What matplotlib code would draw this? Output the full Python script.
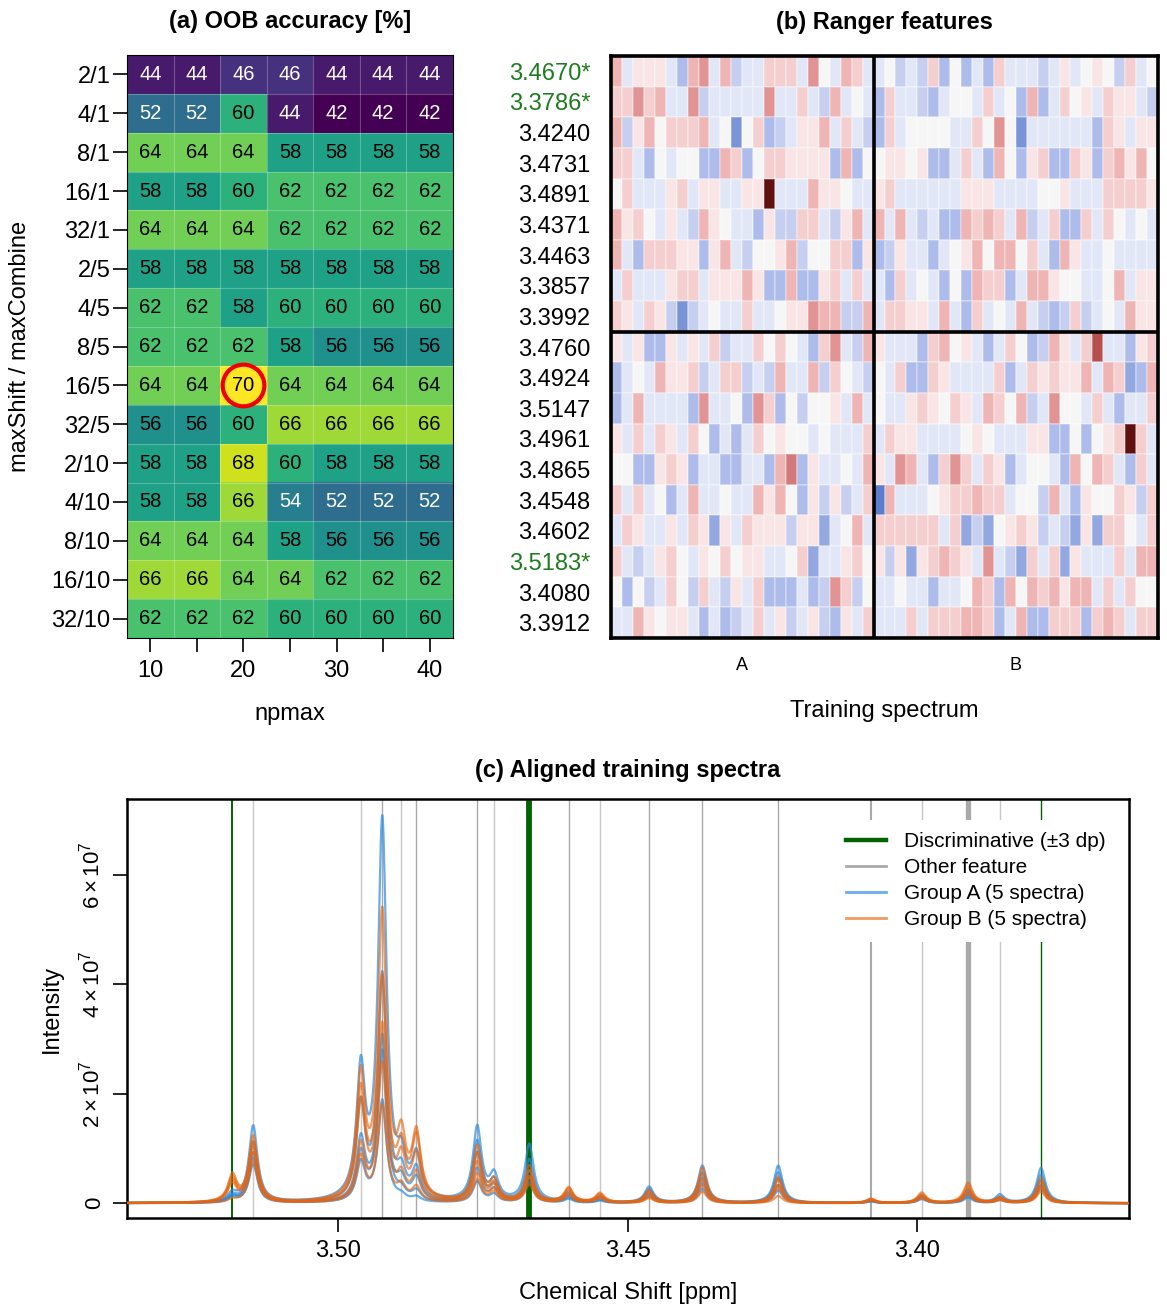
import numpy as np
import matplotlib
matplotlib.use("Agg")
import matplotlib.pyplot as plt
from matplotlib.colors import LinearSegmentedColormap
from matplotlib.lines import Line2D

plt.rcParams['font.family'] = ['Liberation Sans', 'DejaVu Sans']
plt.rcParams['mathtext.fontset'] = 'custom'
plt.rcParams['mathtext.rm'] = 'Liberation Sans'
plt.rcParams['mathtext.it'] = 'Liberation Sans:italic'

# ---------------- (a) OOB accuracy grid ----------------
shift_combine = ["2/1", "4/1", "8/1", "16/1", "32/1", "2/5", "4/5", "8/5", "16/5",
                 "32/5", "2/10", "4/10", "8/10", "16/10", "32/10"]
npmax = [10, 15, 20, 25, 30, 35, 40]
oob = [
    [44, 44, 46, 46, 44, 44, 44],
    [52, 52, 60, 44, 42, 42, 42],
    [64, 64, 64, 58, 58, 58, 58],
    [58, 58, 60, 62, 62, 62, 62],
    [64, 64, 64, 62, 62, 62, 62],
    [58, 58, 58, 58, 58, 58, 58],
    [62, 62, 58, 60, 60, 60, 60],
    [62, 62, 62, 58, 56, 56, 56],
    [64, 64, 70, 64, 64, 64, 64],
    [56, 56, 60, 66, 66, 66, 66],
    [58, 58, 68, 60, 58, 58, 58],
    [58, 58, 66, 54, 52, 52, 52],
    [64, 64, 64, 58, 56, 56, 56],
    [66, 66, 64, 64, 62, 62, 62],
    [62, 62, 62, 60, 60, 60, 60],
]
best_row, best_np = "16/5", 20

# ---------------- (b) ranger feature heatmap ----------------
features = ["3.4670*", "3.3786*", "3.4240", "3.4731", "3.4891", "3.4371", "3.4463",
            "3.3857", "3.3992", "3.4760", "3.4924", "3.5147", "3.4961", "3.4865",
            "3.4548", "3.4602", "3.5183*", "3.4080", "3.3912"]
group_a = [
    [3, -1, 1, 1, 1, -1, -3, 3, 4, -1, 3, -2, -1, -1, 2, 2, 2, -1, 4, 0, -1, 3, 2, -1],
    [2, 2, 4, 2, 3, -1, -1, 4, -2, -1, -1, -1, -1, -1, 4, -1, -1, 2, -1, -2, 3, -1, 0, -1],
    [3, -2, 1, 3, 0, 2, 2, 2, 3, -1, 0, -5, 0, 2, -3, -2, -1, 1, 1, 3, -1, 2, -1, -2],
    [2, 2, -1, -3, 0, -1, 0, 0, -3, -3, 3, 2, -3, 0, 2, 2, 1, 1, 1, 1, -3, 3, -3, 0],
    [0, 2, -1, -1, -1, 1, 2, -1, 1, 1, -1, -1, 1, 1, 8, -1, -1, -1, 3, 1, 1, 0, -1, -1],
    [3, 1, 2, 0, -1, 1, -1, -2, 3, 1, 0, -1, -1, -3, 1, -2, -2, 2, 2, -1, -2, 1, 3, -1],
    [3, -1, -3, 2, 2, 2, 1, 1, -3, 1, 3, -1, -2, 0, 0, 1, 3, -2, 0, 0, 2, 2, -3, 1],
    [-1, 2, -1, -1, -1, 1, 2, 2, -1, 1, 1, 1, 3, 1, -3, -3, 3, -3, -3, 1, 2, -1, 2, -1],
    [2, 1, -1, 2, 1, -2, -5, -2, -1, 0, -1, -1, 2, -1, -1, 0, 1, 1, 4, 3, 3, -2, -2, 3],
    [1, -1, 1, -3, -3, 1, -1, 1, -1, 2, -2, -1, -1, 2, 0, 2, 0, -1, -3, 2, 4, -1, -2, 3],
    [-3, -1, 0, -1, 3, 1, 1, 2, -2, -1, 2, 2, -2, -1, -2, 3, -1, -1, 3, -2, 2, 0, -1, -2],
    [-3, -1, 3, -1, -1, -1, -1, -3, 4, -1, -1, 0, -3, 4, 2, -3, 0, -2, 0, 0, 1, -1, 3, -1],
    [1, -1, 2, -1, 2, 1, -1, 2, 0, -3, -1, -3, -1, 2, 0, 1, 0, 0, -1, 0, -1, -1, -1, 2],
    [0, 0, -3, -3, 1, 2, 1, -3, -1, -1, -3, -3, -1, -1, -3, 3, 5, -3, 1, -1, -1, 0, -1, 3],
    [2, -1, 2, -1, 0, -3, -1, 3, -1, -1, 0, -1, -1, 3, 1, 3, 0, -3, 1, -2, 1, -2, -1, 2],
    [-1, 2, 1, -1, -1, 1, -1, 2, 1, -4, 1, -1, 2, 1, 1, 1, -2, 1, 1, -4, -1, 0, 3, -1],
    [2, -1, -2, -1, 1, 2, 0, -1, 1, 0, 2, 0, 1, 1, -1, -1, 0, 2, -4, -1, -1, 1, 2, 0],
    [0, -3, 0, -2, -1, 2, 0, -2, 2, -1, -2, 1, -1, 2, -3, -3, -3, -1, -3, -2, 4, 2, -2, 0],
    [-1, -1, 3, 1, 0, 1, 1, -1, -3, -1, -3, -2, -1, 2, -1, 1, -2, -1, 1, -2, -3, 1, -1, 2],
]
group_b = [
    [-1, 0, -2, -1, -2, 2, -3, 0, -3, -1, -3, 2, -1, -1, -1, -2, -1, 1, -1, 0, 1, 0, -2, 2, -1, 0],
    [-3, 2, -1, -1, -2, -3, -1, 0, 0, -1, 2, -1, 0, -3, 3, -3, -1, 2, 0, 1, -1, 2, 1, 1, -1, -2],
    [-3, 2, -1, 0, 0, 0, 0, -1, -1, 2, 0, 4, 0, -5, -1, -1, -1, -1, -1, -1, -3, 2, 1, -1, 1, 1],
    [0, 1, 1, 0, 1, -3, -3, -1, 2, -1, -3, 3, 0, -3, 1, 2, -3, -3, 2, 1, -3, 2, 3, 1, 3, 0],
    [1, 2, -1, -1, -1, -1, -1, -1, 1, 1, 1, -1, -1, -1, -1, 0, 0, 1, -1, -1, -1, 2, 2, 2, 2, 1],
    [3, -1, 3, -1, -2, -1, -3, -3, 3, 2, 3, 2, -1, 3, -2, -1, 2, -3, -3, 2, -1, 2, 0, -1, 0, -1],
    [-3, -2, 1, -1, -1, -3, -1, 0, 1, 3, 0, 3, 3, 0, 2, -1, -3, 3, 1, -1, -1, 0, -1, -1, -1, -1],
    [-1, -3, 2, -1, 0, -1, -3, 0, -3, 3, 2, 2, -3, -1, 3, 3, 1, 0, 0, -1, -1, 0, 3, -1, 1, 1],
    [-1, 2, 2, 1, 1, -1, 3, -1, -3, 2, -1, 0, -1, 3, -1, -2, -3, -2, 2, -2, -1, 0, -1, 3, 1, 1],
    [1, -1, -1, -1, -3, 2, 3, 0, 1, -1, -3, -1, 2, 0, -3, -2, 3, 1, -1, 2, 6, -1, -1, -3, 1, 2],
    [0, -1, 2, -3, -3, 2, 1, -1, -1, -1, -1, 2, -3, -1, 2, 1, 2, 1, 1, 3, -1, 3, 2, -4, -3, 3],
    [0, -1, -1, 1, 2, 1, 0, 2, 1, -1, 3, 2, 0, 3, -2, -1, 4, 0, 0, -1, 2, -1, -3, -1, -1, 2],
    [-1, 2, 1, 1, -1, -1, -1, -1, 0, 1, 0, -1, -1, -1, 1, 1, -3, -3, 0, -3, 0, 1, 2, 8, 2, -1],
    [1, -1, 4, 3, -1, -3, 2, 4, 2, -1, 2, 1, -3, -1, 0, 0, -1, -3, 3, 0, 3, 2, -1, -3, 2, -1],
    [-6, 3, -1, -1, -1, 0, 1, 2, 2, 3, 2, 2, -1, 0, 0, -2, 3, -1, -3, 1, 0, 0, 2, 1, -2, 2],
    [2, 2, 2, 2, 2, 2, -1, 2, -4, -2, -4, 0, 1, 2, 1, -2, -1, -2, -4, 1, -4, 2, 2, 0, -1, 2],
    [1, -2, 1, -4, 1, 2, 3, 2, 1, -1, 4, -1, -2, -4, 2, -1, 2, -4, 1, -1, -1, -1, 2, -1, 3, 3],
    [-1, -1, 0, -1, -1, -3, -1, -1, 0, 3, 2, -3, 3, 0, 3, 2, 3, 1, 3, 3, -1, 2, -1, 2, 0, 0],
    [-1, -1, -1, 2, -1, 2, 2, 2, 3, 3, 2, -3, -1, 3, -3, -3, 2, 2, 2, -3, 2, 3, 2, -1, 2, 2],
]
n_top = 9  # features above the horizontal divider

# ---------------- (c) aligned spectra: peak centres and heights (x 1e7) ----------------
peak_ppm = [3.5183, 3.5147, 3.4961, 3.4924, 3.4891, 3.4865, 3.4760, 3.4731, 3.4670, 3.4602,
            3.4548, 3.4463, 3.4371, 3.4240, 3.4080, 3.3992, 3.3912, 3.3857, 3.3786]
heights_a = [  # one row per peak, five spectra of group A
    [0.15, 0.12, 0.10, 0.10, 0.08], [1.40, 1.10, 0.92, 0.82, 0.70], [2.30, 1.70, 1.10, 0.85, 0.70],
    [6.90, 4.10, 3.00, 2.75, 1.85], [0.60, 0.45, 0.32, 0.15, 0.08], [0.75, 0.55, 0.40, 0.18, 0.08],
    [1.35, 1.10, 0.90, 0.62, 0.38], [0.45, 0.36, 0.28, 0.22, 0.14], [1.05, 0.78, 0.58, 0.48, 0.38],
    [0.17, 0.14, 0.11, 0.09, 0.07], [0.10, 0.08, 0.07, 0.05, 0.04], [0.29, 0.25, 0.21, 0.17, 0.13],
    [0.68, 0.56, 0.46, 0.36, 0.26], [0.68, 0.56, 0.46, 0.33, 0.23], [0.05, 0.04, 0.04, 0.03, 0.03],
    [0.14, 0.12, 0.10, 0.09, 0.07], [0.23, 0.19, 0.16, 0.13, 0.10], [0.15, 0.11, 0.09, 0.07, 0.05],
    [0.64, 0.52, 0.42, 0.33, 0.27],
]
heights_b = [
    [0.48, 0.43, 0.38, 0.33, 0.05], [1.20, 1.10, 1.00, 0.90, 0.76], [2.20, 1.95, 1.75, 1.00, 0.80],
    [5.20, 4.00, 3.15, 2.50, 1.75], [1.00, 0.85, 0.70, 0.42, 0.25], [1.15, 1.10, 0.80, 0.50, 0.26],
    [1.00, 0.86, 0.72, 0.52, 0.42], [0.36, 0.31, 0.27, 0.22, 0.18], [0.66, 0.57, 0.48, 0.43, 0.33],
    [0.27, 0.25, 0.22, 0.17, 0.13], [0.17, 0.15, 0.13, 0.10, 0.08], [0.23, 0.19, 0.16, 0.11, 0.09],
    [0.64, 0.52, 0.42, 0.32, 0.21], [0.48, 0.42, 0.33, 0.27, 0.13], [0.08, 0.07, 0.06, 0.05, 0.05],
    [0.19, 0.16, 0.13, 0.11, 0.09], [0.37, 0.31, 0.26, 0.21, 0.16], [0.10, 0.08, 0.07, 0.06, 0.05],
    [0.46, 0.38, 0.32, 0.27, 0.21],
]
discriminative = [3.5183, 3.4670, 3.3786]
other_features = [3.5147, 3.4961, 3.4924, 3.4891, 3.4865, 3.4760, 3.4731, 3.4602, 3.4548,
                  3.4463, 3.4371, 3.4240, 3.4080, 3.3992, 3.3912, 3.3857]

# line widths / shades of the feature markers (style only)
disc_lw = {3.5183: 1.4, 3.4670: 4.2, 3.3786: 1.0}
other_lw = {3.4080: 1.5, 3.3912: 3.8}
other_col = {3.5147: "#c8c8c8", 3.4961: "#c8c8c8", 3.4891: "#c4c4c4", 3.4731: "#c8c8c8",
             3.4548: "#c8c8c8", 3.3992: "#c4c4c4", 3.3857: "#c8c8c8"}

fig = plt.figure(figsize=(11.67, 13.16), dpi=100)
W, H = 1167, 1316


def px_axes(l, t, r, b):
    return fig.add_axes([l / W, 1 - b / H, (r - l) / W, (b - t) / H])


# ===== panel a =====
ax = px_axes(127, 55, 453, 638)
arr = np.array(oob)
ax.imshow(arr, cmap="viridis", vmin=42, vmax=70, aspect="auto",
          extent=(7.5, 42.5, len(shift_combine) - 0.5, -0.5), interpolation="nearest")
for i in range(len(shift_combine)):
    for j, n in enumerate(npmax):
        v = arr[i, j]
        ax.text(n, i, str(v), ha="center", va="center", fontsize=14.5,
                color="white" if v <= 54 else "black")
for k in range(1, len(npmax)):
    ax.axvline(7.5 + 5 * k, color="white", lw=0.8, alpha=0.25)
for k in range(1, len(shift_combine)):
    ax.axhline(k - 0.5, color="white", lw=0.8, alpha=0.25)
ax.plot(best_np, shift_combine.index(best_row), "o", ms=30, mfc="none", mec="#ee0000", mew=3)
ax.set_xticks(npmax)
ax.set_xticklabels([str(n) if n % 10 == 0 else "" for n in npmax])
ax.set_yticks(range(len(shift_combine)))
ax.set_yticklabels(shift_combine)
ax.tick_params(axis="both", labelsize=17, length=10, width=1.2, direction="out")
ax.tick_params(axis="y", pad=2)
ax.tick_params(axis="x", pad=6)
for s in ax.spines.values():
    s.set_linewidth(0.8)
ax.set_xlabel("npmax", fontsize=17)
ax.xaxis.set_label_coords(0.5, -0.13)
ax.xaxis.label.set_va("center")
ax.set_ylabel("maxShift / maxCombine", fontsize=17)
ax.yaxis.set_label_coords(-0.328, 0.5)
ax.yaxis.label.set_va("center")
ax.text(0.5, 1.058, "(a) OOB accuracy [%]", transform=ax.transAxes, ha="center",
        va="center", fontsize=17, fontweight="bold")

# ===== panel b =====
ax = px_axes(611, 56, 1158, 638)
mat = np.hstack([np.array(group_a), np.array(group_b)])
nA = len(group_a[0])
nodes = [(-6, "#5a7dcf"), (-5, "#7a94d8"), (-4, "#94a8e0"), (-3, "#aebdea"), (-2, "#c6cff0"),
         (-1, "#e2e7f7"), (0, "#f6f6f6"), (1, "#f9e6e6"), (2, "#f5cfcf"), (3, "#efb4b4"),
         (4, "#e29494"), (5, "#d47c7c"), (6, "#b85050"), (8, "#601010")]
cmap = LinearSegmentedColormap.from_list("rb", [((v + 6) / 14, c) for v, c in nodes])
ax.pcolormesh(np.arange(mat.shape[1] + 1), np.arange(mat.shape[0] + 1), mat,
              cmap=cmap, vmin=-6, vmax=8, edgecolors=(1, 1, 1, 0.25), linewidth=0.3)
ax.set_xlim(0, mat.shape[1])
ax.set_ylim(mat.shape[0], 0)
ax.axvline(nA, color="black", lw=2.6)
ax.axhline(n_top, color="black", lw=2.6)
for s in ax.spines.values():
    s.set_linewidth(2.6)
ax.set_yticks(np.arange(len(features)) + 0.5)
ax.set_yticklabels(features)
for lab, f in zip(ax.get_yticklabels(), features):
    if f.endswith("*"):
        lab.set_color("#1e7b1e")
ax.set_xticks([nA / 2, nA + (mat.shape[1] - nA) / 2])
ax.set_xticklabels(["A", "B"])
ax.tick_params(axis="y", labelsize=17, length=0, pad=15)
ax.tick_params(axis="x", labelsize=13, length=0, pad=14)
ax.set_xlabel("Training spectrum", fontsize=17)
ax.xaxis.set_label_coords(0.5, -0.126)
ax.xaxis.label.set_va("center")
ax.text(0.5, 1.058, "(b) Ranger features", transform=ax.transAxes, ha="center",
        va="center", fontsize=17, fontweight="bold")

# ===== panel c =====
ax = px_axes(127, 799, 1129, 1218)
xs = np.linspace(3.5365, 3.3634, 4000)
gamma = 0.0009


def spectrum(col, table):
    y = np.zeros_like(xs)
    for p, row in zip(peak_ppm, table):
        y += row[col] * 1e7 / (1 + ((xs - p) / gamma) ** 2)
    return y


for p in other_features:
    ax.axvline(p, color=other_col.get(p, "#a9a9a9"), lw=other_lw.get(p, 1.0), zorder=1)
for p in discriminative:
    ax.axvline(p, color="#006400", lw=disc_lw[p], zorder=1.1)
for k in range(5):
    ax.plot(xs, spectrum(k, heights_a), color="#2b8ae0", lw=1.6, alpha=0.7, zorder=2)
for k in range(5):
    ax.plot(xs, spectrum(k, heights_b), color="#e8650f", lw=1.6, alpha=0.65, zorder=3)
ax.set_xlim(3.5365, 3.3634)
ax.set_ylim(-2.7e6, 7.39e7)
ax.set_xticks([3.50, 3.45, 3.40])
ax.set_xticklabels(["3.50", "3.45", "3.40"])
ax.set_yticks([0, 2e7, 4e7, 6e7])
ax.set_yticklabels(["0", r"$2\times10^{7}$", r"$4\times10^{7}$", r"$6\times10^{7}$"],
                   rotation=90, va="center")
ax.tick_params(axis="x", labelsize=17, length=10, width=1.2, pad=6)
ax.tick_params(axis="y", labelsize=16, length=10, width=1.2, pad=6)
for s in ax.spines.values():
    s.set_linewidth(1.8)
ax.set_xlabel("Chemical Shift [ppm]", fontsize=17)
ax.xaxis.set_label_coords(0.5, -0.179)
ax.xaxis.label.set_va("center")
ax.set_ylabel("Intensity", fontsize=17)
ax.yaxis.set_label_coords(-0.075, 0.5)
ax.yaxis.label.set_va("center")
ax.text(0.5, 1.069, "(c) Aligned training spectra", transform=ax.transAxes, ha="center",
        va="center", fontsize=17, fontweight="bold")
handles = [Line2D([], [], color="#006400", lw=3.2),
           Line2D([], [], color="#a9a9a9", lw=2),
           Line2D([], [], color="#2b8ae0", lw=2, alpha=0.7),
           Line2D([], [], color="#e8650f", lw=2, alpha=0.65)]
leg = ax.legend(handles, ["Discriminative (\u00b13 dp)", "Other feature",
                          "Group A (5 spectra)", "Group B (5 spectra)"],
                loc="upper right", bbox_to_anchor=(1.0, 0.975), fontsize=15,
                frameon=True, fancybox=False, handlelength=1.9, handletextpad=0.9,
                labelspacing=0.33, borderpad=0.6)
leg.get_frame().set_facecolor("white")
leg.get_frame().set_edgecolor("none")
leg.get_frame().set_alpha(1)
leg.set_zorder(5)

fig.savefig("out.png", dpi=100)
